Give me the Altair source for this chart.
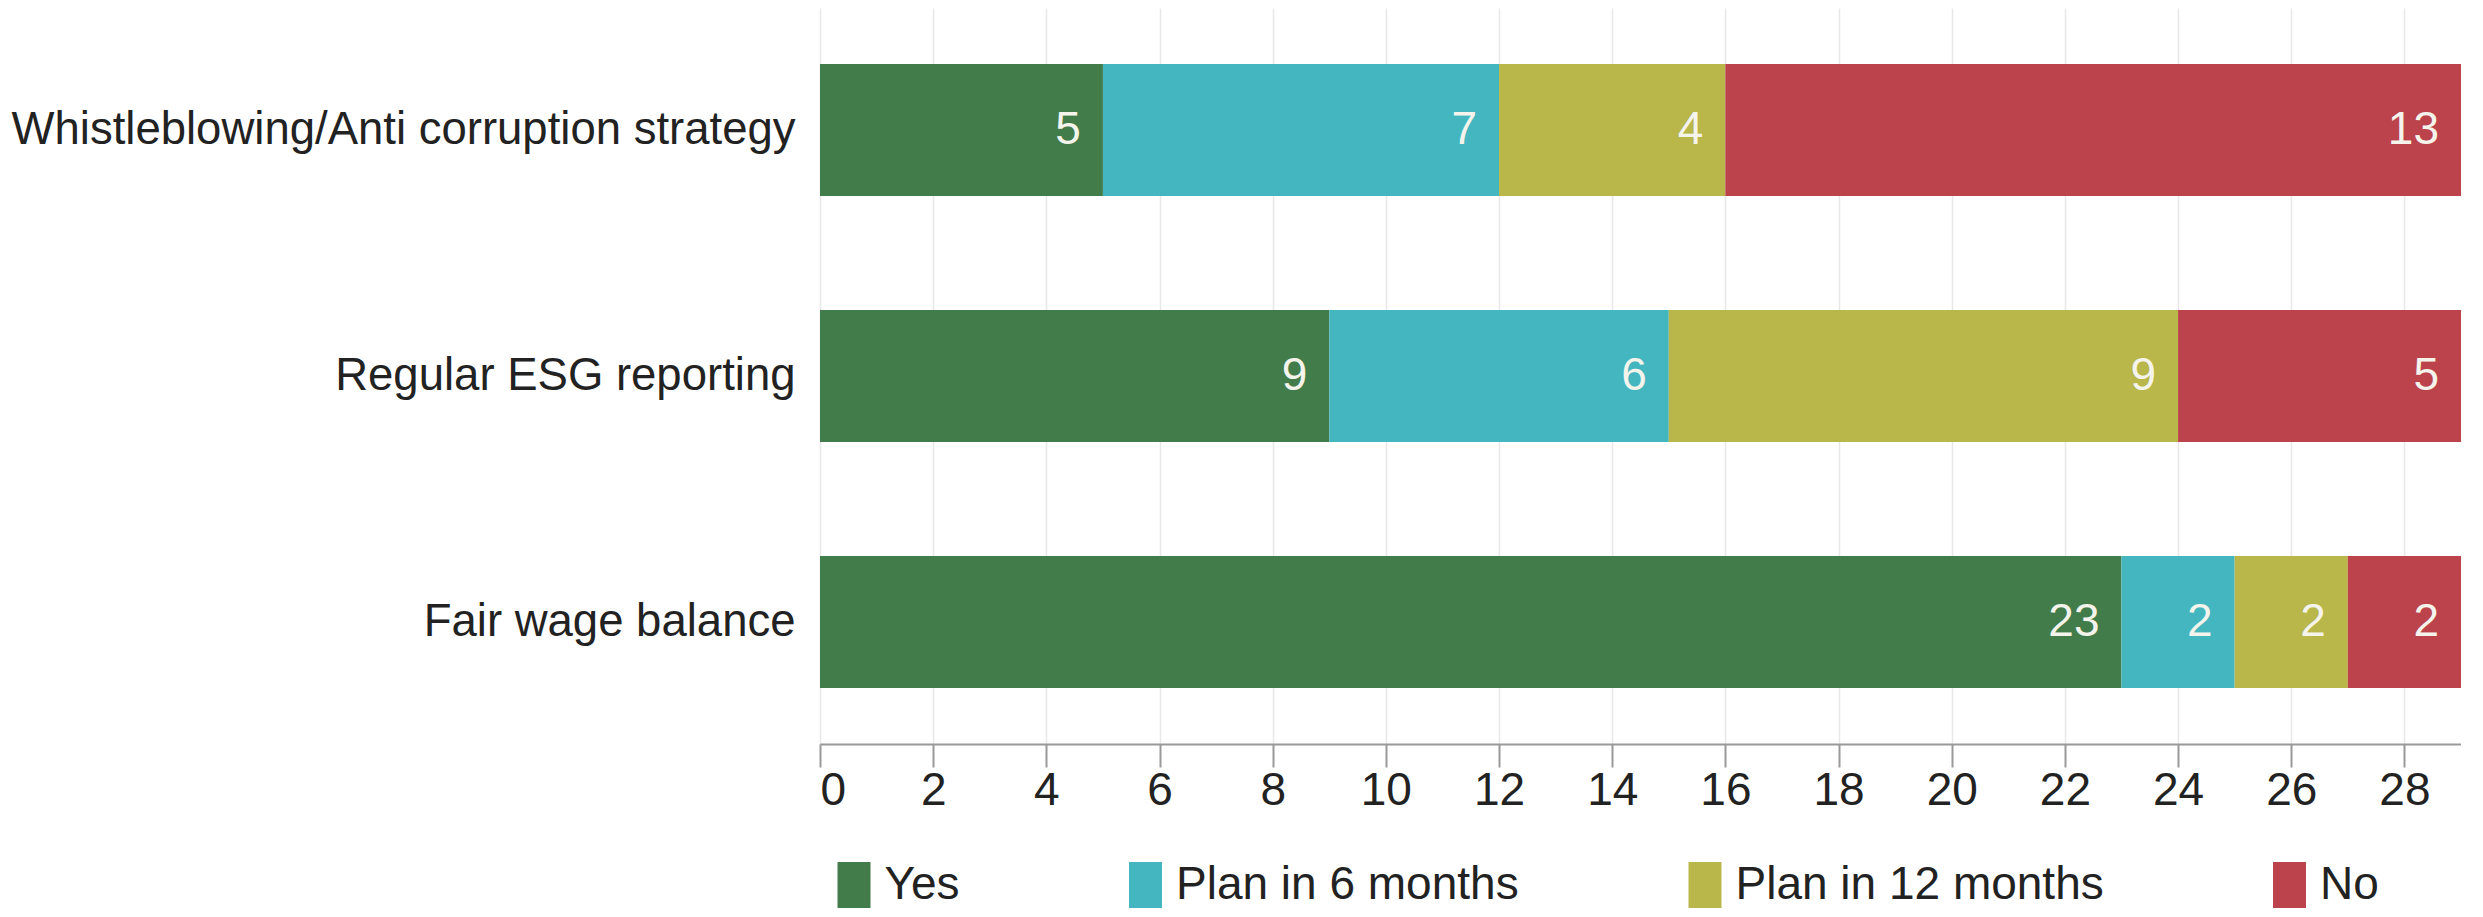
import altair as alt
import pandas as pd

categories = ["Whistleblowing/Anti corruption strategy", "Regular ESG reporting", "Fair wage balance"]
series = ["Yes", "Plan in 6 months", "Plan in 12 months", "No"]
yes = [5, 9, 23]
plan6 = [7, 6, 2]
plan12 = [4, 9, 2]
no = [13, 5, 2]
colors = ["#427C4A", "#44B6C0", "#B9B64A", "#BC434B"]
x_ticks = [0, 2, 4, 6, 8, 10, 12, 14, 16, 18, 20, 22, 24, 26, 28]

rows = []
for si, (name, vals) in enumerate(zip(series, [yes, plan6, plan12, no])):
    for c, v in zip(categories, vals):
        rows.append({"item": c, "series": name, "order": si, "value": v})
df = pd.DataFrame(rows)

FONT = "Liberation Sans"

base = alt.Chart(df).transform_window(
    cum="sum(value)", groupby=["item"], sort=[alt.SortField("order")],
    frame=[None, 0]
).transform_calculate(start="datum.cum - datum.value")

y_enc = alt.Y("item:N", sort=categories, title=None,
              scale=alt.Scale(paddingInner=0.463, paddingOuter=0.228),
              axis=alt.Axis(domain=False, ticks=False, labelPadding=25,
                            labelFontSize=45.5, labelFont=FONT, labelColor="#222222",
                            labelLimit=1000, minExtent=812, maxExtent=812, grid=False))

bars = base.mark_bar().encode(
    x=alt.X("start:Q", title=None,
            scale=alt.Scale(domain=[0, 29], nice=False, zero=True),
            axis=alt.Axis(values=x_ticks, format="d", domainColor="#999999", domainWidth=2,
                          tickColor="#999999", tickWidth=2, tickSize=23,
                          labelFontSize=46, labelFont=FONT, labelColor="#222222",
                          labelPadding=1, grid=True, gridColor="#e8e8e8", gridWidth=1.5)),
    x2="cum:Q",
    y=y_enc,
    color=alt.Color("series:N", sort=series,
                    scale=alt.Scale(domain=series, range=colors),
                    legend=alt.Legend(
                        title=None, orient="none", legendX=11, legendY=854,
                        direction="horizontal", columns=4, columnPadding=162.5,
                        symbolType="M-0.717,-1L0.717,-1L0.717,1L-0.717,1Z",
                        symbolSize=2116, symbolStrokeWidth=0, symbolOpacity=1,
                        labelFontSize=46, labelFont=FONT, labelColor="#222222",
                        labelOffset=7.5, labelLimit=1000, padding=0)),
    order=alt.Order("order:Q"),
)

labels = base.mark_text(align="right", baseline="middle", dx=-22,
                        fontSize=46, font=FONT, color="#f4f4ec").encode(
    x=alt.X("cum:Q"),
    y=alt.Y("item:N", sort=categories),
    text=alt.Text("value:Q"),
)

chart = alt.layer(bars, labels).properties(
    width=1641, height=736, padding=0
).configure_view(stroke=None)

chart.save("out.html", embed_options={"renderer": "svg", "actions": False})
